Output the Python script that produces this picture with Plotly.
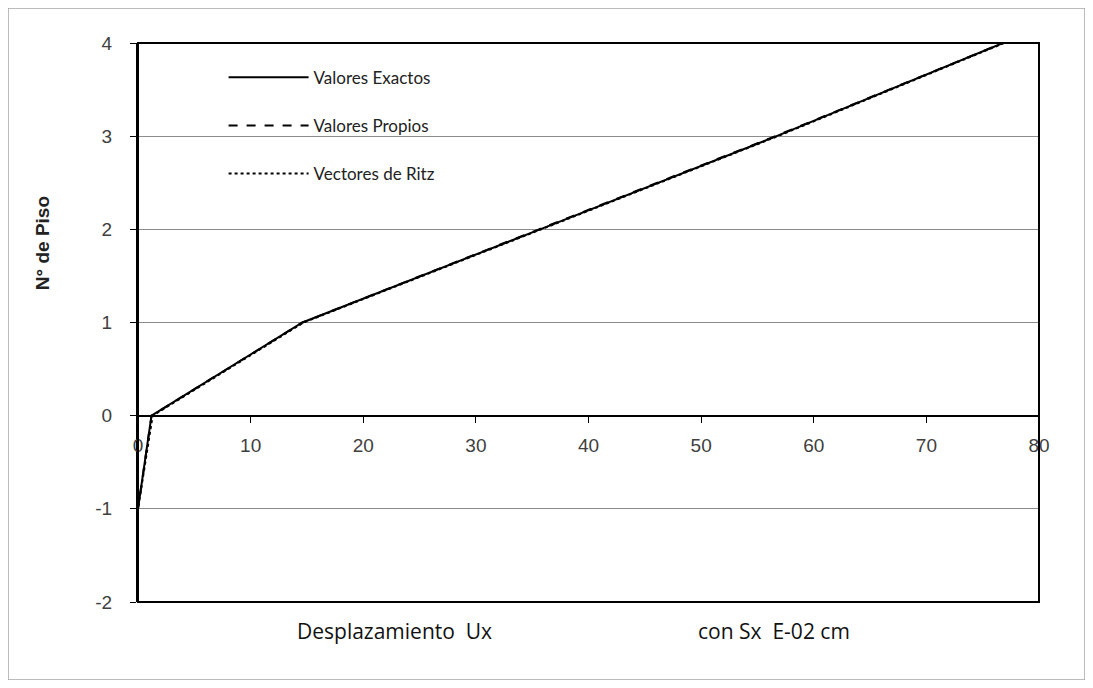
import plotly.graph_objects as go

# Data
pisos = [-2, -1, 0, 1, 2, 3, 4]
ux_exactos = [0.0, 0.0, 1.2, 14.6, 35.7, 56.7, 76.8]
ux_propios = [0.0, 0.0, 1.2, 14.6, 35.6, 56.6, 76.8]
ux_ritz = [0.0, 0.0, 1.3, 14.7, 35.8, 56.8, 76.9]

x_ticks = [0, 10, 20, 30, 40, 50, 60, 70, 80]
y_ticks = [-2, -1, 0, 1, 2, 3, 4]
y_labels = ["-2", "-1", "0", "1", "2", "3", "4"]

TICK_FONT = dict(family="Liberation Sans, Arial", size=19, color="#404040")
LEG_FONT = dict(family="Lato, Open Sans", size=17, color="#222222")
LABEL_FONT = dict(family="Open Sans, Lato", size=21, color="#111111")

fig = go.Figure()
series = [
    ("Valores Exactos", ux_exactos, "solid"),
    ("Valores Propios", ux_propios, "dash"),
    ("Vectores de Ritz", ux_ritz, "dot"),
]
for i, (name, xs, dash) in enumerate(series):
    fig.add_trace(go.Scatter(
        x=xs, y=pisos, mode="lines", name=name,
        legendgroup=f"g{i}",
        line=dict(color="black", width=2, dash=dash),
    ))

fig.update_layout(
    width=1077, height=672,
    margin=dict(l=130, r=46, t=35, b=78),
    paper_bgcolor="white", plot_bgcolor="white",
    showlegend=True,
    legend=dict(
        x=0.095, y=0.97, xanchor="left", yanchor="top",
        bgcolor="rgba(0,0,0,0)", font=LEG_FONT,
        tracegroupgap=23, traceorder="grouped", itemwidth=80,
    ),
    xaxis=dict(
        range=[0, 80], tickvals=x_ticks, ticks="outside", ticklen=6,
        tickcolor="black", showline=True, linecolor="black", linewidth=2,
        showgrid=False, zeroline=False, tickfont=TICK_FONT,
        ticklabelstandoff=7,
        anchor="free", position=1/3,
    ),
    yaxis=dict(
        range=[-2, 4], tickvals=y_ticks, ticktext=y_labels, ticks="outside",
        ticklen=6, tickcolor="black", showline=True, linecolor="black",
        linewidth=2, showgrid=True, gridcolor="#8c8c8c", gridwidth=1,
        zeroline=False, tickfont=TICK_FONT, ticklabelstandoff=14,
    ),
    shapes=[
        # plot area frame
        dict(type="rect", xref="paper", yref="paper", x0=0, x1=1, y0=0, y1=1,
             line=dict(color="black", width=2)),
        # outer chart border
        dict(type="rect", xref="paper", yref="paper",
             x0=-130 / 901, x1=1 + 46 / 901, y0=-78 / 559, y1=1 + 35 / 559,
             line=dict(color="#a6a6a6", width=1.5)),
    ],
    annotations=[
        dict(text="<b>N° de Piso</b>", x=-0.1065, y=0.642, xref="paper",
             yref="paper", xanchor="center", yanchor="middle",
             showarrow=False, textangle=-90,
             font=dict(family="Liberation Sans, Arial", size=19, color="#222222")),
        dict(text="Desplazamiento  Ux", x=0.285, y=-0.08, xref="paper",
             yref="paper", xanchor="center", showarrow=False, font=LABEL_FONT),
        dict(text="con Sx  E-02 cm", x=0.706, y=-0.08, xref="paper",
             yref="paper", xanchor="center", showarrow=False, font=LABEL_FONT),
    ],
)

fig.write_html("out.html")
